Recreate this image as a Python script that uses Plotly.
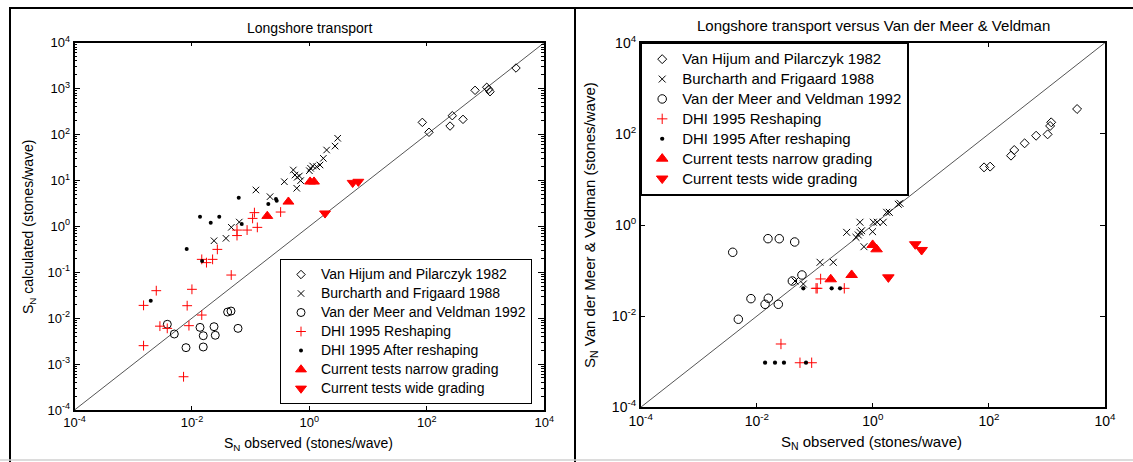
import plotly.graph_objects as go

W, H = 1133, 462
FONT = "Liberation Sans, Arial, sans-serif"

# ---------------- data: left panel (S_N calculated vs observed) ----------------
vh_obs_L = [84, 109, 249, 272, 414, 664, 1050, 1135, 1194, 3311]
vh_calc_L = [184, 112, 153, 257, 214, 918, 1069, 966, 857, 2812]

bf_obs_L = [0.0238, 0.038, 0.0469, 0.064, 0.123, 0.214, 0.375, 0.533, 0.61, 0.57, 0.62,
            0.675, 0.71, 1.0, 1.05, 1.14, 1.33, 1.52, 1.73, 1.97, 2.74, 3.04]
bf_calc_L = [0.486, 0.548, 0.953, 1.24, 6.19, 4.43, 9.38, 16.9, 6.75, 13.1, 11.7,
             12.5, 9.9, 16.3, 18.4, 20.6, 19.9, 21.7, 30.3, 46, 56, 82.8]

vm_obs_L = [0.00381, 0.00501, 0.00793, 0.01374, 0.0156, 0.0156, 0.0238, 0.025, 0.0406, 0.0463, 0.061]
vm_calc_L = [0.00735, 0.00452, 0.00228, 0.0063, 0.00415, 0.00236, 0.00652, 0.00424, 0.0136, 0.0143, 0.0060]

dr_obs_L = [0.0015, 0.00247, 0.0015, 0.00285, 0.0038, 0.0083, 0.01, 0.0089, 0.0147, 0.0072, 0.0147,
            0.0177, 0.0225, 0.0271, 0.0467, 0.0586, 0.0586, 0.087, 0.116, 0.108, 0.13, 0.324]
dr_calc_L = [0.019, 0.0397, 0.00252, 0.0067, 0.006, 0.0187, 0.0425, 0.00687, 0.0117, 0.00053, 0.191,
             0.162, 0.191, 0.315, 0.087, 0.83, 0.63, 0.83, 1.99, 1.49, 0.95, 2.05]

da_obs_L = [0.00199, 0.00815, 0.0149, 0.01374, 0.0209, 0.0292, 0.0627, 0.0705, 0.2, 0.27, 0.278]
da_calc_L = [0.024, 0.32, 0.176, 1.62, 1.2, 1.62, 4.2, 1.12, 3.06, 3.94, 3.62]

cn_obs_L = [0.192, 0.44, 1.03, 1.2]
cn_calc_L = [1.68, 3.44, 9.4, 9.4]

cw_obs_L = [1.85, 5.47, 6.83]
cw_calc_L = [1.92, 8.9, 9.4]

# ---------------- data: right panel (S_N Van der Meer & Veldman vs observed) ----------------
vh_obs_R = [82.4, 105, 240, 273, 412, 650, 1026, 1133, 1183, 3304]
vh_vm_R = [18.4, 19.1, 33.2, 44.2, 62, 91, 97.5, 149, 179, 351]

bf_obs_R = [0.0456, 0.0634, 0.123, 0.208, 0.354, 0.512, 0.561, 0.6, 0.641, 0.703,
            0.99, 0.6, 1.02, 1.19, 1.51, 1.73, 1.92, 2.74, 2.94]
bf_vm_R = [0.059, 0.0508, 0.152, 0.152, 0.69, 0.537, 0.604, 0.69, 0.75, 0.334,
           0.714, 1.15, 1.15, 1.15, 1.15, 1.9, 1.9, 2.85, 2.99]

vm_obs_R = [0.00385, 0.0156, 0.0244, 0.045, 0.060, 0.041, 0.00794, 0.0158, 0.0139, 0.0235, 0.00481]
vm_vm_R = [0.252, 0.501, 0.50, 0.424, 0.08, 0.059, 0.0242, 0.0247, 0.0182, 0.0182, 0.00855]

dr_obs_R = [0.0261, 0.0555, 0.0883, 0.126, 0.105, 0.11, 0.322]
dr_vm_R = [0.00245, 0.00095, 0.00095, 0.0655, 0.0408, 0.0408, 0.0408]

da_obs_R = [0.0139, 0.0206, 0.0294, 0.0705, 0.0634, 0.195, 0.272]
da_vm_R = [0.00095, 0.00095, 0.00095, 0.00095, 0.0408, 0.0408, 0.0408]

cn_obs_R = [0.188, 0.431, 0.993, 1.16]
cn_vm_R = [0.0644, 0.08, 0.365, 0.293]

cw_obs_R = [5.38, 6.93, 1.85]
cw_vm_R = [0.378, 0.283, 0.071]

diag = [1e-4, 1e4]

series_names = ["Van Hijum and Pilarczyk 1982", "Burcharth and Frigaard 1988",
                "Van der Meer and Veldman 1992", "DHI 1995 Reshaping",
                "DHI 1995 After reshaping", "Current tests narrow grading",
                "Current tests wide grading"]

left_title = "Longshore transport"
right_title = "Longshore transport versus Van der Meer & Veldman"
x_title = "S<sub>N</sub> observed (stones/wave)"
yL_title = "S<sub>N</sub> calculated (stones/wave)"
yR_title = "S<sub>N</sub> Van der Meer & Veldman (stones/wave)"

tick_vals_2 = [1e-4, 1e-2, 1e0, 1e2, 1e4]
tick_text_2 = ["10<sup>-4</sup>", "10<sup>-2</sup>", "10<sup>0</sup>", "10<sup>2</sup>", "10<sup>4</sup>"]
tick_vals_1 = [1e-4, 1e-3, 1e-2, 1e-1, 1e0, 1e1, 1e2, 1e3, 1e4]
tick_text_1 = ["10<sup>-4</sup>", "10<sup>-3</sup>", "10<sup>-2</sup>", "10<sup>-1</sup>", "10<sup>0</sup>",
               "10<sup>1</sup>", "10<sup>2</sup>", "10<sup>3</sup>", "10<sup>4</sup>"]
minor_vals = [k * 10.0 ** e for e in range(-4, 4) for k in range(2, 10)]

# ---------------- styles ----------------
styles = [
    dict(symbol="diamond-open", size=6.5, color="black", line=dict(width=1, color="black")),
    dict(symbol="x-thin-open", size=6.5, color="black", line=dict(width=1, color="black")),
    dict(symbol="circle-open", size=8, color="black", line=dict(width=1, color="black")),
    dict(symbol="cross-thin-open", size=7, color="red", line=dict(width=1, color="red")),
    dict(symbol="circle", size=4, color="black", line=dict(width=0)),
    dict(symbol="triangle-up", size=9.5, color="red", line=dict(width=1, color="red")),
    dict(symbol="triangle-down", size=9.5, color="red", line=dict(width=1, color="red")),
]


def py(p):
    return 1 - p / H


fig = go.Figure()

# diagonal lines
fig.add_trace(go.Scatter(x=diag, y=diag, mode="lines", line=dict(color="#555555", width=1),
                         showlegend=False, hoverinfo="skip", xaxis="x", yaxis="y"))
fig.add_trace(go.Scatter(x=diag, y=diag, mode="lines", line=dict(color="#555555", width=1),
                         showlegend=False, hoverinfo="skip", xaxis="x2", yaxis="y2"))

left_sets = [(vh_obs_L, vh_calc_L), (bf_obs_L, bf_calc_L), (vm_obs_L, vm_calc_L),
             (dr_obs_L, dr_calc_L), (da_obs_L, da_calc_L), (cn_obs_L, cn_calc_L), (cw_obs_L, cw_calc_L)]
right_sets = [(vh_obs_R, vh_vm_R), (bf_obs_R, bf_vm_R), (vm_obs_R, vm_vm_R),
              (dr_obs_R, dr_vm_R), (da_obs_R, da_vm_R), (cn_obs_R, cn_vm_R), (cw_obs_R, cw_vm_R)]

for (xs, ys), name, st in zip(left_sets, series_names, styles):
    fig.add_trace(go.Scatter(x=xs, y=ys, mode="markers", marker=st,
                             name='<span style="font-size:14px">%s</span>' % name,
                             legend="legend", xaxis="x", yaxis="y"))
for (xs, ys), name, st in zip(right_sets, series_names, styles):
    st2 = dict(st)
    st2["size"] = st["size"] * 1.06
    fig.add_trace(go.Scatter(x=xs, y=ys, mode="markers", marker=st2,
                             name='<span style="font-size:15px">%s</span>' % name,
                             legend="legend2", xaxis="x2", yaxis="y2"))

axis_common = dict(type="log", range=[-4, 4], showgrid=False, zeroline=False, showline=True,
                   linecolor="black", linewidth=1.5, mirror="ticks", ticks="inside",
                   tickcolor="black", tickwidth=1, automargin=False)

fig.update_layout(
    width=W, height=H,
    margin=dict(l=0, r=0, t=0, b=0),
    paper_bgcolor="white", plot_bgcolor="white",
    font=dict(family=FONT, color="black", size=13),
    xaxis=dict(axis_common, domain=[74.5 / W, 544.2 / W], anchor="y",
               tickvals=tick_vals_2, ticktext=tick_text_2, ticklen=4,
               tickfont=dict(size=13, family=FONT, color="black")),
    yaxis=dict(axis_common, domain=[py(410), py(42.7)], anchor="x",
               tickvals=tick_vals_1, ticktext=tick_text_1, ticklen=6,
               tickfont=dict(size=13, family=FONT, color="black"),
               minor=dict(tickvals=minor_vals, ticks="inside", ticklen=3, tickcolor="black",
                          tickwidth=1, showgrid=False)),
    xaxis2=dict(axis_common, domain=[640.7 / W, 1105 / W], anchor="y2",
                tickvals=tick_vals_2, ticktext=tick_text_2, ticklen=5,
                tickfont=dict(size=14, family=FONT, color="black")),
    yaxis2=dict(axis_common, domain=[py(407.3), py(42.7)], anchor="x2",
                tickvals=tick_vals_2, ticktext=tick_text_2, ticklen=5,
                tickfont=dict(size=14, family=FONT, color="black")),
    legend=dict(x=280 / W, y=py(259), xanchor="left", yanchor="top",
                bordercolor="black", borderwidth=1, bgcolor="white",
                font=dict(family=FONT, size=12, color="black"), itemwidth=30,
                tracegroupgap=0),
    legend2=dict(x=640.7 / W, y=py(42.7), xanchor="left", yanchor="top",
                 bordercolor="black", borderwidth=1.5, bgcolor="white",
                 font=dict(family=FONT, size=13, color="black"), itemwidth=30,
                 tracegroupgap=0),
    showlegend=True,
)

ann = dict(showarrow=False, xref="paper", yref="paper", xanchor="center", yanchor="middle",
           font=dict(family=FONT, color="black"))
fig.add_annotation(ann, x=309 / W, y=py(28), text=left_title, font_size=14)
fig.add_annotation(ann, x=873 / W, y=py(26), text=right_title, font_size=15)
fig.add_annotation(ann, x=308 / W, y=py(444), text=x_title, font_size=14)
fig.add_annotation(ann, x=871 / W, y=py(442), text=x_title, font_size=15)
fig.add_annotation(ann, x=29 / W, y=py(227), text=yL_title, font_size=14, textangle=-90)
fig.add_annotation(ann, x=590 / W, y=py(225), text=yR_title, font_size=15, textangle=-90)

# figure frame
frame = dict(type="line", xref="paper", yref="paper", line=dict(color="black", width=2))
fig.add_shape(frame, x0=9 / W, x1=1.0, y0=py(8), y1=py(8))
fig.add_shape(frame, x0=10 / W, x1=10 / W, y0=py(8), y1=0)
fig.add_shape(frame, x0=575 / W, x1=575 / W, y0=py(8), y1=0)
fig.add_shape(type="line", xref="paper", yref="paper", x0=0, x1=1, y0=py(460), y1=py(460),
              line=dict(color="#d0d0d0", width=1.5))

fig.write_html("out.html")
